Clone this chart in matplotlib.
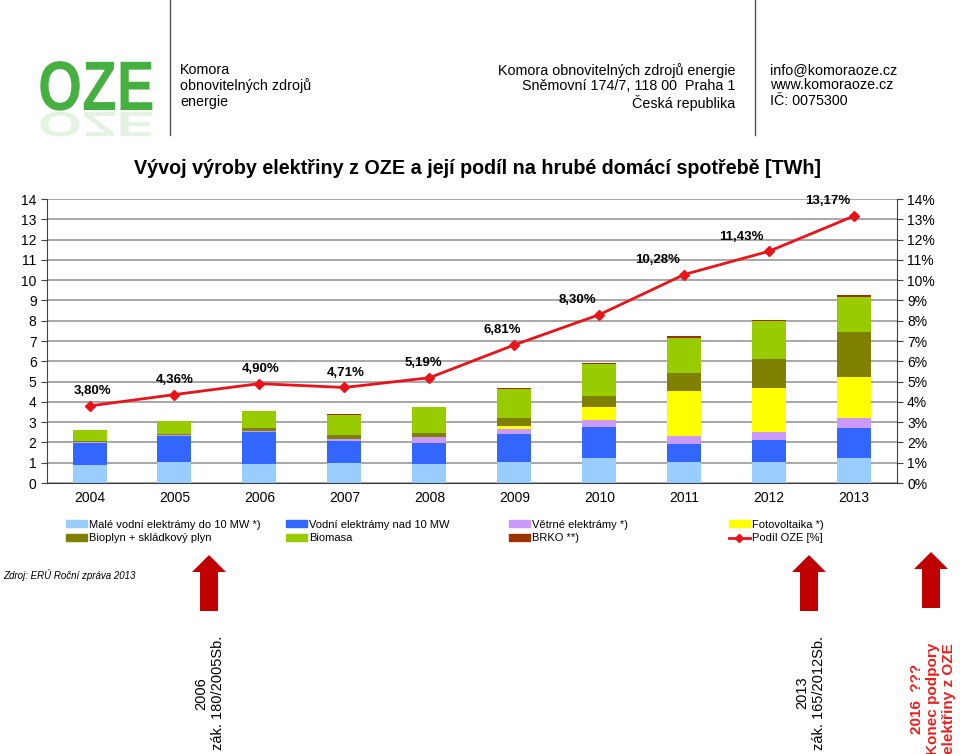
import numpy as np
import matplotlib
matplotlib.use('Agg')
import matplotlib.pyplot as plt
from matplotlib.patches import Patch, PathPatch, Polygon
from matplotlib.lines import Line2D
from matplotlib.textpath import TextPath
from matplotlib.font_manager import FontProperties
from matplotlib.transforms import Affine2D

plt.rcParams['font.family'] = ['Liberation Sans', 'DejaVu Sans']

# data (TWh)
years = ['2004', '2005', '2006', '2007', '2008', '2009', '2010', '2011', '2012', '2013']
male_vodni = [0.90, 1.05, 0.95, 0.99, 0.95, 1.05, 1.25, 1.02, 1.02, 1.25]
vodni_nad10 = [1.09, 1.29, 1.57, 1.08, 1.04, 1.35, 1.51, 0.92, 1.09, 1.48]
vetrne = [0.01, 0.02, 0.05, 0.12, 0.26, 0.28, 0.33, 0.38, 0.41, 0.46]
fotovoltaika = [0.00, 0.00, 0.00, 0.00, 0.01, 0.12, 0.64, 2.22, 2.15, 2.06]
bioplyn = [0.05, 0.07, 0.16, 0.18, 0.22, 0.42, 0.58, 0.89, 1.46, 2.20]
biomasa = [0.56, 0.61, 0.81, 1.00, 1.25, 1.43, 1.55, 1.74, 1.85, 1.71]
brko = [0.00, 0.01, 0.01, 0.01, 0.01, 0.02, 0.06, 0.10, 0.08, 0.10]
podil_oze = [3.80, 4.36, 4.90, 4.71, 5.19, 6.81, 8.30, 10.28, 11.43, 13.17]

series = [
    ('Malé vodní elektrámy do 10 MW *)', male_vodni, '#99ccff'),
    ('Vodní elektrámy nad 10 MW', vodni_nad10, '#3366ff'),
    ('Větrné elektrámy *)', vetrne, '#cc99ff'),
    ('Fotovoltaika *)', fotovoltaika, '#ffff00'),
    ('Bioplyn + skládkový plyn', bioplyn, '#808000'),
    ('Biomasa', biomasa, '#99cc00'),
    ('BRKO **)', brko, '#993300'),
]
line_color = '#e8141a'
arrow_color = '#c00000'

fig = plt.figure(figsize=(9.6, 7.54), dpi=100)

# page overlay in pixel coordinates for header / footer
page = fig.add_axes([0, 0, 1, 1])
page.set_xlim(0, 960)
page.set_ylim(754, 0)
page.axis('off')

# logo
fp = FontProperties(family='Liberation Sans', weight='bold')
tp = TextPath((0, 0), 'OZE', prop=fp, size=70)
page.add_patch(PathPatch(Affine2D().scale(0.81, -1).translate(38, 110).transform_path(tp),
                         fc='#45b03f', ec='none'))
page.add_patch(PathPatch(Affine2D().scale(0.81, 0.5).translate(38, 112).transform_path(tp),
                         fc='#45b03f', ec='none', alpha=0.15))

page.plot([170, 170], [0, 135], color='#555555', lw=1)
page.plot([755, 755], [0, 135], color='#555555', lw=1)
page.text(180, 63, 'Komora\nobnovitelných zdrojů\nenergie', fontsize=10.3, va='top',
          ha='left', linespacing=1.12)
page.text(735, 63, 'Komora obnovitelných zdrojů energie\nSněmovní 174/7, 118 00  Praha 1\nČeská republika',
          fontsize=10.3, va='top', ha='right', multialignment='right', linespacing=1.12)
page.text(770, 63, 'info@komoraoze.cz\nwww.komoraoze.cz\nIČ: 0075300', fontsize=10.3,
          va='top', ha='left', linespacing=1.12)

page.text(478, 168, 'Vývoj výroby elektřiny z OZE a její podíl na hrubé domácí spotřebě [TWh]',
          fontsize=14.2, fontweight='bold', ha='center', va='center')

page.text(3, 575, 'Zdroj: ERÚ Roční zpráva 2013', fontsize=7, style='italic',
          ha='left', va='center')

# arrows
for cx, top, base, bottom in [(209, 555, 572, 611), (809, 555, 572, 611), (931, 552, 569, 608)]:
    page.add_patch(Polygon([(cx, top), (cx + 17, base), (cx + 9, base), (cx + 9, bottom),
                            (cx - 9, bottom), (cx - 9, base), (cx - 17, base)],
                           closed=True, fc=arrow_color, ec='none'))

page.text(210, 636, '2006\nzák. 180/2005Sb.', rotation=90, fontsize=10.5, ha='center',
          va='top', multialignment='center', linespacing=1.25)
page.text(811, 636, '2013\nzák. 165/2012Sb.', rotation=90, fontsize=10.5, ha='center',
          va='top', multialignment='center', linespacing=1.25)
page.text(933, 643, '2016  ???\nKonec podpory\nelektřiny z OZE', rotation=90, fontsize=11,
          fontweight='bold', color='#e8201e', ha='center', va='top',
          multialignment='center', linespacing=1.2)

# main chart
ax = fig.add_axes([0.049, 0.3594, 0.885, 0.3766])
x = np.arange(len(years))
bottom = np.zeros(len(years))
for name, vals, col in series:
    ax.bar(x, vals, 0.4, bottom=bottom, color=col, zorder=2)
    bottom += np.array(vals)

ax.set_xlim(-0.5, len(years) - 0.5)
ax.set_ylim(0, 14)
ax.set_yticks(range(0, 15))
ax.set_xticks(x)
ax.set_xticklabels(years)
ax.yaxis.grid(True, color='#a0a0a0', lw=1.3, zorder=0)
ax.set_axisbelow(True)
ax.tick_params(axis='x', length=0, pad=6, labelsize=10)
ax.tick_params(axis='y', length=4, direction='out', labelsize=10, color='#404040')
for s in ['top', 'right']:
    ax.spines[s].set_visible(False)
ax.spines['left'].set_color('#404040')
ax.spines['bottom'].set_color('#404040')

ax2 = ax.twinx()
ax2.set_ylim(0, 14)
ax2.set_yticks(range(0, 15))
ax2.set_yticklabels([f'{i}%' for i in range(0, 15)])
ax2.tick_params(axis='y', length=4, direction='out', labelsize=10, color='#404040')
for s in ['top', 'left', 'bottom']:
    ax2.spines[s].set_visible(False)
ax2.spines['right'].set_color('#404040')
ax2.plot(x, podil_oze, color=line_color, lw=2, marker='D', ms=5, zorder=3)

label_dx = [3, 0, 1, 1, -6, -12, -22, -27, -28, -26]
for xi, v, dx in zip(x, podil_oze, label_dx):
    ax2.annotate(f'{v:.2f}'.replace('.', ',') + '%', (xi, v), xytext=(dx * 0.72, 10.5),
                 textcoords='offset points', ha='center', va='center',
                 fontsize=9.5, fontweight='bold')

# legend, four columns
handles = [Patch(color=col) for _, _, col in series]
handles.append(Line2D([], [], color=line_color, lw=2, marker='D', ms=4))
labels = [name for name, _, _ in series] + ['Podíl OZE [%]']
cols = [[0, 4], [1, 5], [2, 6], [3, 7]]
col_x = [60, 280, 503, 723]
for cx, idx in zip(col_x, cols):
    fig.legend([handles[i] for i in idx], [labels[i] for i in idx],
               loc='upper left', bbox_to_anchor=(cx / 960, 1 - 514 / 754),
               frameon=False, handlelength=1.9, handleheight=0.6,
               handletextpad=0.2, labelspacing=0.35, borderpad=0,
               prop={'family': 'Liberation Sans', 'size': 8})

fig.savefig('out.png', dpi=100)
